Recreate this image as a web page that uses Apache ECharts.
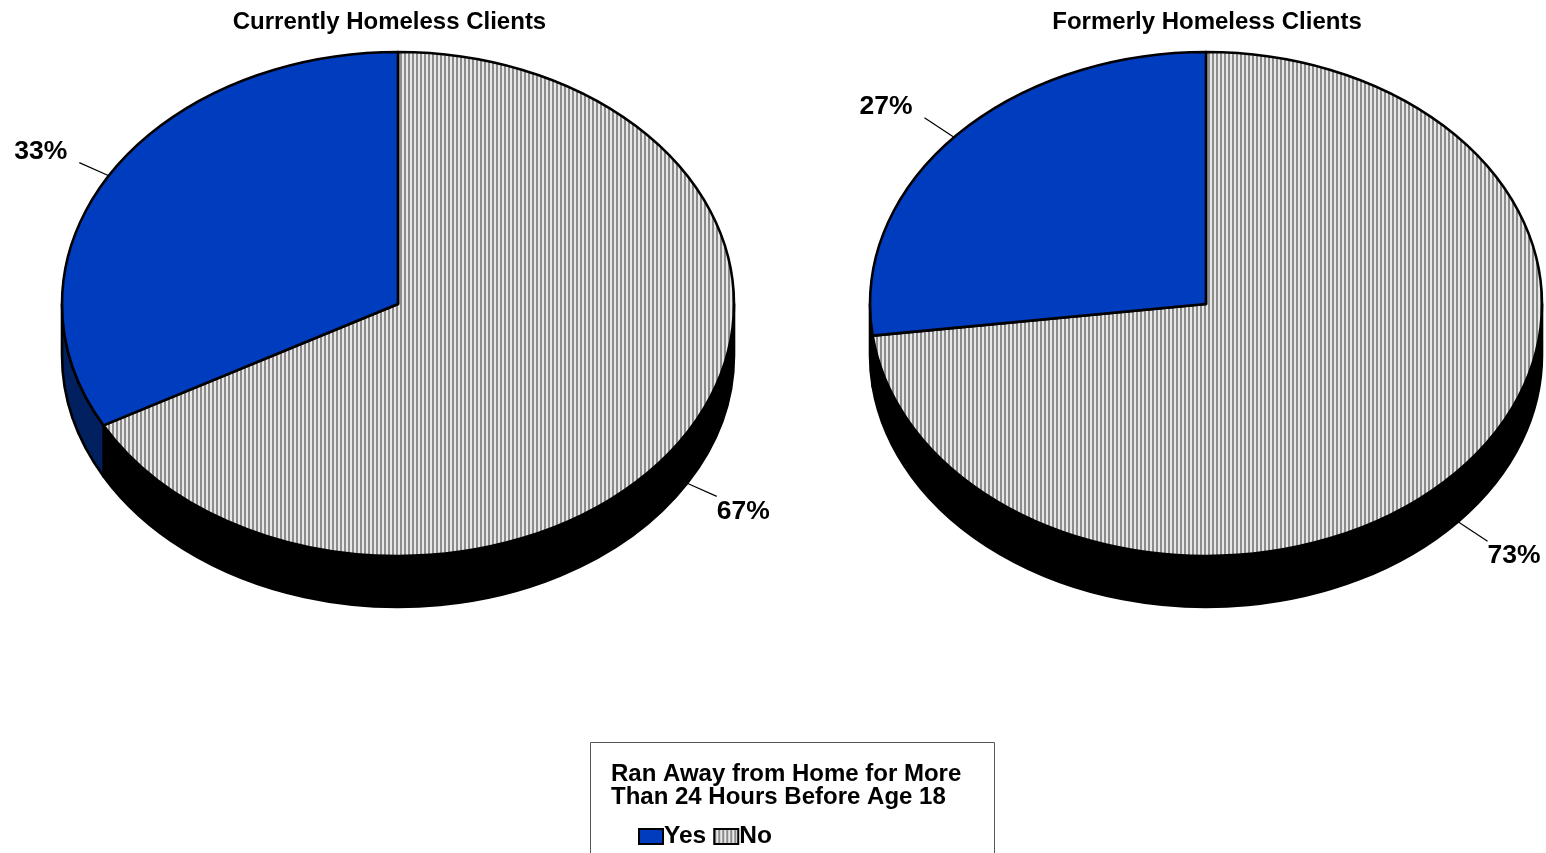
<!DOCTYPE html>
<html>
<head>
<meta charset="utf-8">
<style>html,body{margin:0;padding:0;background:#fff;overflow:hidden}#chart{width:1546px;height:853px}</style>
<script src="https://cdn.jsdelivr.net/npm/echarts@6/dist/echarts.min.js"></script>
</head>
<body>
<div id="chart"></div>
<script>
// Share of clients, in percent, per group
const groups = ['Currently Homeless Clients', 'Formerly Homeless Clients'];
const yesValues = [33, 27];
const noValues = [67, 73];
const legendTitle = 'Ran Away from Home for More\nThan 24 Hours Before Age 18';

// Tilted-disc geometry
const centers = [398, 1206];
const titleCenters = [384.5, 1202];
const centerY = 304, rx = 336, ry = 252, depth = 51;
const font = '"Liberation Sans", Arial, sans-serif';

// Vertical hatch used for the "No" slices
function hatch() {
  const c = document.createElement('canvas');
  c.width = 4; c.height = 4;
  const g = c.getContext('2d');
  g.fillStyle = '#e8e8e8'; g.fillRect(0, 0, 4, 4);
  g.fillStyle = '#8c8c8c'; g.fillRect(0, 0, 2, 4);
  return c;
}
const hatchFill = { image: hatch(), repeat: 'repeat' };

// Angle t is measured clockwise from the top of the disc, in eccentric-anomaly form
const px = (cx, t) => cx + rx * Math.sin(t);
const py = (t, dy) => centerY + dy - ry * Math.cos(t);

function arcTo(cx, t0, t1, dy) {
  const large = Math.abs(t1 - t0) > Math.PI ? 1 : 0;
  const sweep = t1 > t0 ? 1 : 0;
  return `A${rx} ${ry} 0 ${large} ${sweep} ${px(cx, t1)} ${py(t1, dy)}`;
}

function sliceItem(fill, sideFill, direction) {
  return function (params, api) {
    const idx = api.value(0);
    const share = api.value(1) / 100 * Math.PI * 2;
    const cx = centers[idx];
    const t1 = direction * share;
    const children = [];

    // Side wall: only the part of the rim on the near half of the disc shows
    const visLo = direction > 0 ? Math.PI / 2 : -share;
    const visHi = direction > 0 ? share : -Math.PI / 2;
    if (visHi > visLo) {
      const wall = `M${px(cx, visLo)} ${py(visLo, 0)}` + arcTo(cx, visLo, visHi, 0) +
        `L${px(cx, visHi)} ${py(visHi, depth)}` + arcTo(cx, visHi, visLo, depth) + 'Z';
      children.push({
        type: 'path', shape: { pathData: wall },
        style: { fill: sideFill, stroke: '#000', lineWidth: 2.6, lineJoin: 'round' }
      });
    }

    // Top face
    const top = `M${cx} ${centerY}L${cx} ${py(0, 0)}` + arcTo(cx, 0, t1, 0) + 'Z';
    children.push({
      type: 'path', shape: { pathData: top },
      style: { fill, stroke: '#000', lineWidth: 2.6, lineJoin: 'round' }
    });

    // Leader line runs outward along the ellipse normal to the percentage label
    const mid = t1 / 2;
    const front = Math.cos(mid) < 0 ? depth : 0;
    const x0 = px(cx, mid), y0 = py(mid, front);
    const sx = Math.sin(mid) > 0 ? 1 : -1, sy = Math.cos(mid) > 0 ? -1 : 1;
    const x1 = x0 + sx * 29.5;
    const y1 = y0 + sy * 29.5 * (ry * Math.abs(Math.cos(mid))) / (rx * Math.abs(Math.sin(mid)));
    children.push({
      type: 'line', shape: { x1: x0, y1: y0, x2: x1, y2: y1 },
      style: { stroke: '#000', lineWidth: 1.2 }
    });
    children.push({
      type: 'text',
      style: {
        x: x1 + (sx > 0 ? 0 : -12), y: y1 + (sy > 0 ? 15 : -11),
        text: api.value(1) + '%',
        font: `bold 26.5px ${font}`, fill: '#000',
        align: sx > 0 ? 'left' : 'right', verticalAlign: 'middle'
      }
    });
    return { type: 'group', children };
  };
}

const chart = echarts.init(document.getElementById('chart'), null, { renderer: 'canvas' });
chart.setOption({
  animation: false,
  backgroundColor: '#fff',
  title: groups.map((g, i) => ({
    text: g, left: titleCenters[i], top: 5, textAlign: 'center',
    textStyle: { fontFamily: font, fontWeight: 'bold', fontSize: 24, color: '#000' }
  })),
  legend: {
    left: 638, top: 824, itemGap: 7, itemWidth: 24, itemHeight: 15,
    icon: 'rect', selectedMode: false, padding: 0,
    textStyle: { fontFamily: font, fontWeight: 'bold', fontSize: 24.5, color: '#000', padding: [0, 0, 0, -4] },
    data: [
      { name: 'Yes', itemStyle: { color: '#003cbe', borderColor: '#000', borderWidth: 2 } },
      { name: 'No', itemStyle: { color: hatchFill, borderColor: '#000', borderWidth: 2 } }
    ]
  },
  graphic: [
    { type: 'rect', silent: true, z: -1, shape: { x: 590.5, y: 742.5, width: 404, height: 130 },
      style: { fill: '#fff', stroke: '#555', lineWidth: 1 } },
    { type: 'text', silent: true, style: { x: 611, y: 763, text: legendTitle, fill: '#000',
      font: `bold 24px ${font}`, lineHeight: 23 } }
  ],
  series: [
    { name: 'No', type: 'custom', coordinateSystem: 'none', clip: false, silent: true, z: 2,
      renderItem: sliceItem(hatchFill, '#000', 1),
      data: noValues.map((v, i) => [i, v]), encode: { tooltip: 1 } },
    { name: 'Yes', type: 'custom', coordinateSystem: 'none', clip: false, silent: true, z: 3,
      renderItem: sliceItem('#003cbe', '#00205f', -1),
      data: yesValues.map((v, i) => [i, v]), encode: { tooltip: 1 } }
  ]
});
</script>
</body>
</html>
